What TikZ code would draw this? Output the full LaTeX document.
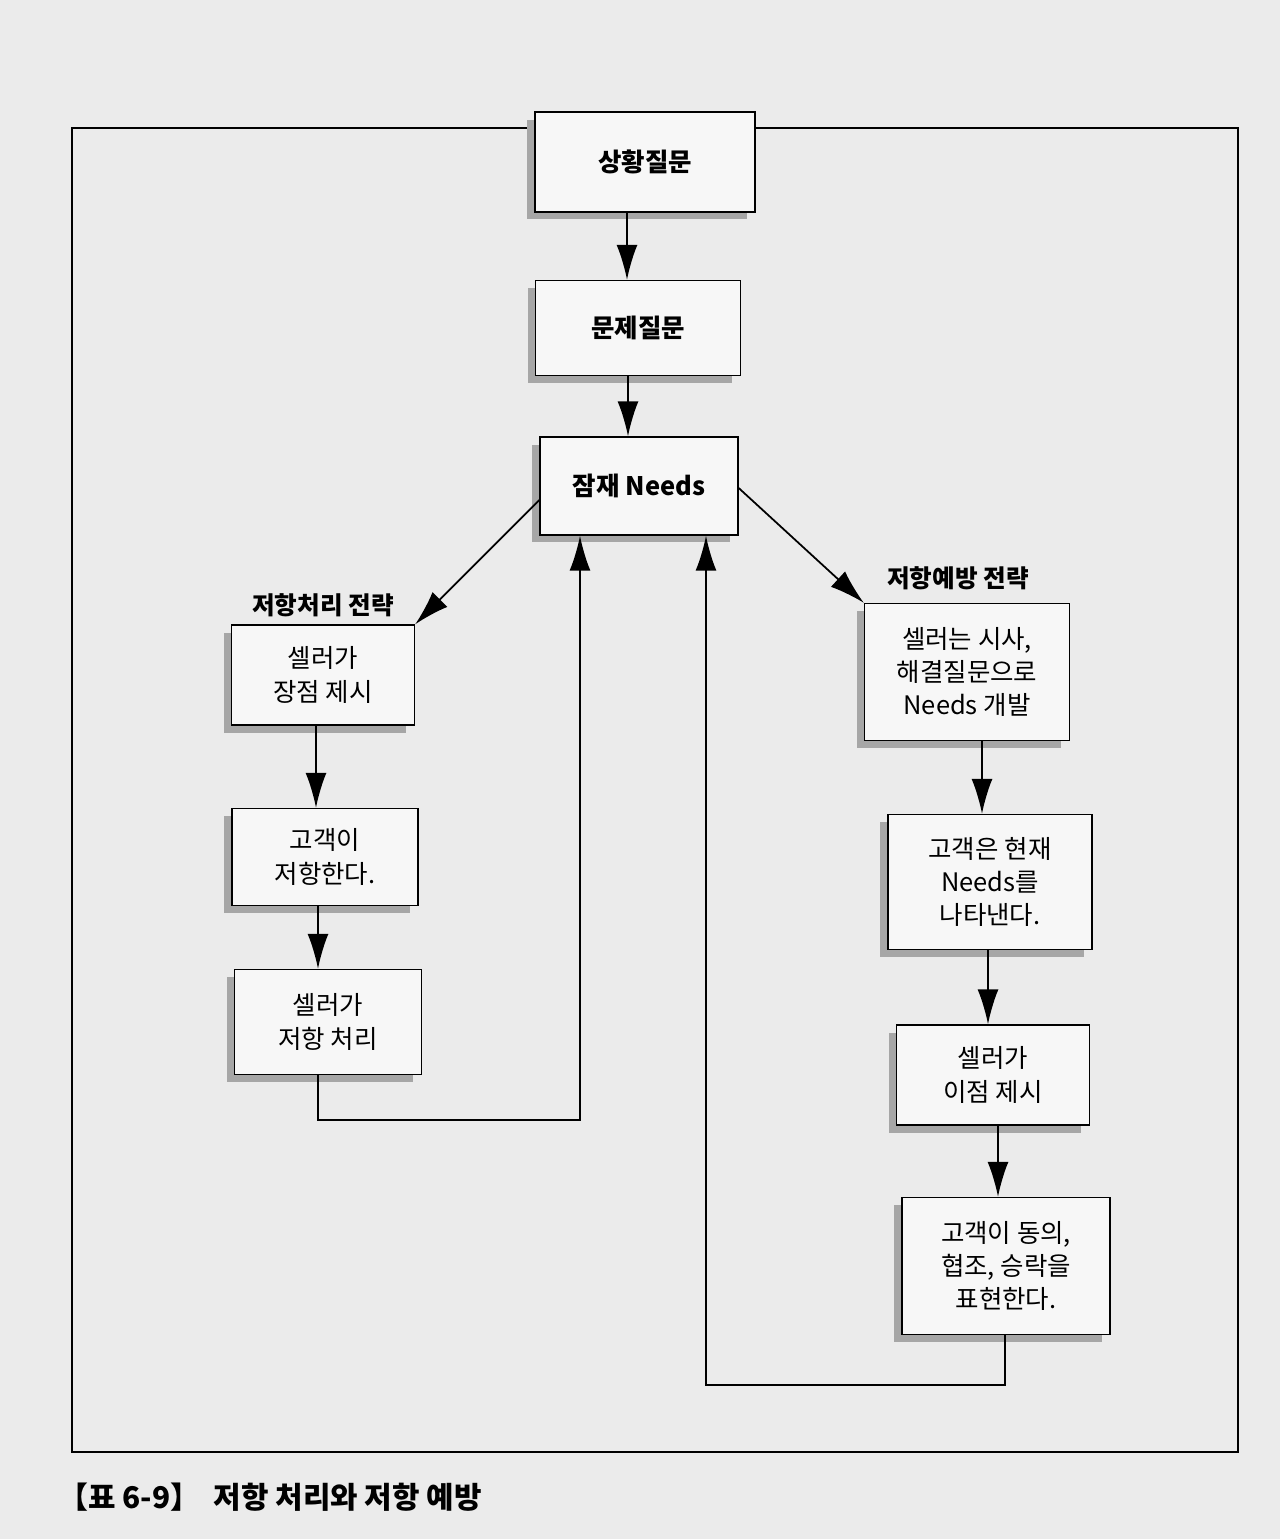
\documentclass[tikz,border=0pt]{standalone}
\usepackage{fontspec}
\setmainfont{Noto Sans CJK KR}
\usepackage{xcolor}
\usetikzlibrary{positioning, shadows, arrows.meta}

\begin{document}
\begin{tikzpicture}[
    x=0.02cm, y=-0.02cm,
    font=\fontsize{14.5}{19}\selectfont,
    step box/.style={draw, thick, fill=gray!6, align=center,
                     drop shadow={shadow xshift=-1.6mm, shadow yshift=-1.5mm,
                                  fill=gray!70, opacity=1}},
    flow/.style={-{Latex[length=7mm, width=4.2mm]}, line width=1pt},
    strategy/.style={font=\fontsize{14}{17}\selectfont\bfseries},
  ]
  \useasboundingbox[fill=gray!16] (0,0) rectangle (1280,1539);

  % ---------------- Frame ----------------
  \draw[thick] (72,128) rectangle (1238,1452);

  % ---------------- Main column ----------------
  \node[step box, minimum width=4.4cm, minimum height=2cm, font=\fontsize{14.5}{19}\selectfont\bfseries]
        (situation) at (645,162) {상황질문};
  \node[step box, minimum width=4.1cm, minimum height=1.9cm, font=\fontsize{14.5}{19}\selectfont\bfseries]
        (problem)   at (638,328) {문제질문};
  \node[step box, minimum width=3.96cm, minimum height=1.96cm, font=\fontsize{14.5}{19}\selectfont\bfseries]
        (latent)    at (639,486) {잠재 Needs};

  % ---------------- Handling strategy ----------------
  \node[strategy] (handleLbl) at (323,605) {저항처리 전략};
  \node[step box, minimum width=3.66cm, minimum height=2cm]  (merit)    at (323,675)  {셀러가\\장점 제시};
  \node[step box, minimum width=3.72cm, minimum height=1.94cm] (resist)  at (325,857)  {고객이\\저항한다.};
  \node[step box, minimum width=3.74cm, minimum height=2.1cm] (handle)   at (328,1022) {셀러가\\저항 처리};

  % ---------------- Prevention strategy ----------------
  \node[strategy] (preventLbl) at (958,578) {저항예방 전략};
  \node[step box, minimum width=4.1cm, minimum height=2.74cm]  (develop) at (967,672)  {셀러는 시사,\\해결질문으로\\Needs 개발};
  \node[step box, minimum width=4.08cm, minimum height=2.7cm]  (express) at (990,882)  {고객은 현재\\Needs를\\나타낸다.};
  \node[step box, minimum width=3.86cm, minimum height=2cm]    (benefit) at (993,1075) {셀러가\\이점 제시};
  \node[step box, minimum width=4.16cm, minimum height=2.74cm] (agree)   at (1006,1266) {고객이 동의,\\협조, 승락을\\표현한다.};

  % ---------------- Return points ----------------
  \coordinate (leftTurn)  at (318,1120);
  \coordinate (leftUp)    at (580,1120);
  \coordinate (rightTurn) at (1005,1385);
  \coordinate (rightUp)   at (706,1385);

  % ---------------- Connections ----------------
  \draw[flow] (situation.south -| 627,0) -- (problem.north -| 627,0);
  \draw[flow] (problem.south -| 628,0) -- (latent.north -| 628,0);
  \draw[flow] (latent.west |- 0,500) -- (merit.north east);
  \draw[flow] (latent.east |- 0,488) -- (develop.north west);

  \draw[flow] (merit.south -| 316,0) -- (resist.north -| 316,0);
  \draw[flow] (resist.south -| 318,0) -- (handle.north -| 318,0);
  \draw[flow] (handle.south -| leftTurn) -- (leftTurn) -- (leftUp) -- (latent.south -| leftUp);

  \draw[flow] (develop.south -| 982,0) -- (express.north -| 982,0);
  \draw[flow] (express.south -| 988,0) -- (benefit.north -| 988,0);
  \draw[flow] (benefit.south -| 998,0) -- (agree.north -| 998,0);
  \draw[flow] (agree.south -| rightTurn) -- (rightTurn) -- (rightUp) -- (latent.south -| rightUp);

  % ---------------- Caption ----------------
  \node[anchor=west, font=\fontsize{17}{20}\selectfont\bfseries] (caption) at (52,1497)
        {【표 6-9】\ \ 저항 처리와 저항 예방};
\end{tikzpicture}
\end{document}
